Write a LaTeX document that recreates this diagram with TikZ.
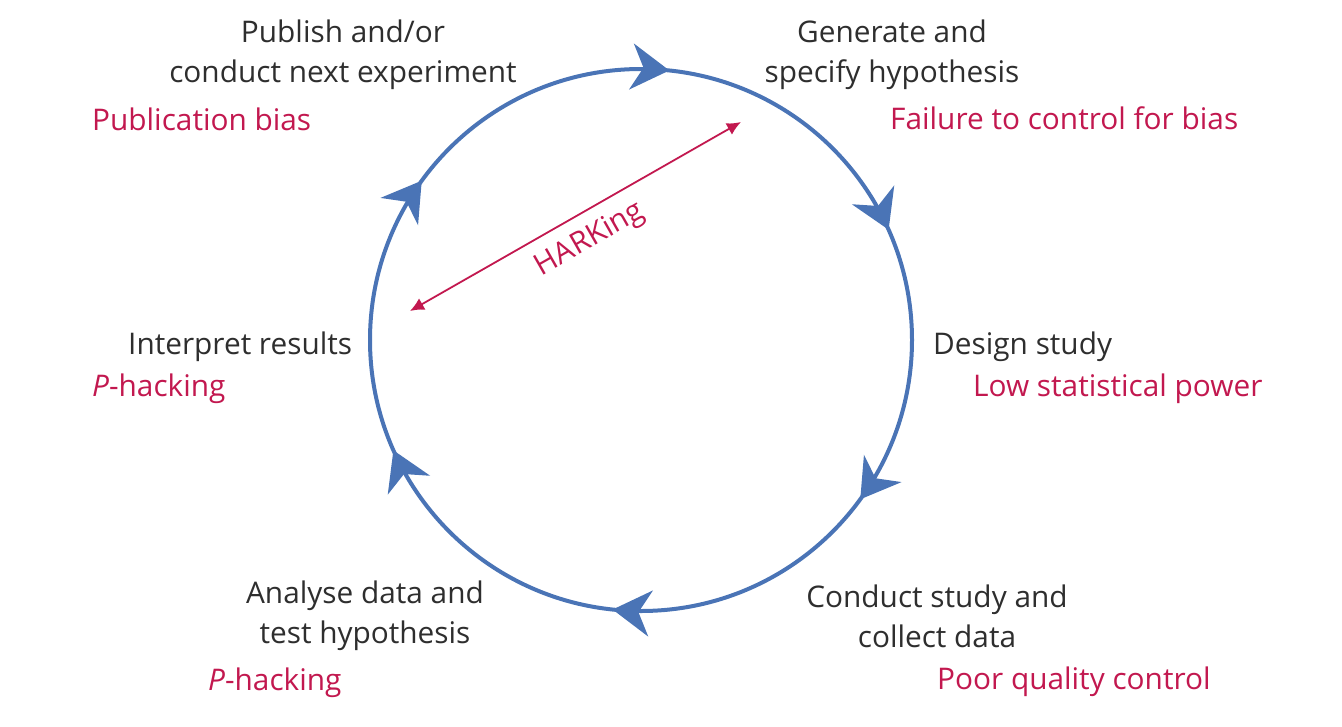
\documentclass[tikz,border=0pt]{standalone}
\usepackage{fontspec}
\setmainfont{Open Sans}
\usetikzlibrary{arrows.meta,decorations.markings}
\definecolor{cycblue}{HTML}{4A74B6}
\definecolor{biasred}{HTML}{C2184F}
\definecolor{txt}{HTML}{2E2E2E}
\tikzset{
  step label/.style={text=txt,font=\fontsize{29.8}{40}\selectfont,align=center,inner sep=0pt},
  bias label/.style={text=biasred,font=\fontsize{29.8}{40}\selectfont,inner sep=0pt},
  cyc/.style={draw=cycblue,line width=4pt},
  cyctip/.style={cycblue},
}
\newcommand{\cyctiphere}{\arrow[cyctip]{Stealth[length=38pt,width=46pt,inset=12pt]}}
\begin{document}
\begin{tikzpicture}[x=1pt,y=1pt]
\useasboundingbox (0,0) rectangle (1342,-726);
\coordinate (c) at (641,-340);
\draw[cyc,postaction={decorate},decoration={markings,
  mark=at position 0.0167 with {\cyctiphere},
  mark=at position 0.1833 with {\cyctiphere},
  mark=at position 0.35 with {\cyctiphere},
  mark=at position 0.5167 with {\cyctiphere},
  mark=at position 0.6833 with {\cyctiphere},
  mark=at position 0.85 with {\cyctiphere}}]
  (c) ++(90:271) arc[start angle=90,end angle=-270,radius=271];
% HARKing
\coordinate (h1) at (410,-311);
\coordinate (h2) at (741,-122);
\draw[biasred,line width=1.8pt,{Latex[length=14pt,width=13pt]}-{Latex[length=14pt,width=13pt]}] (h1) -- (h2);
\node[bias label,rotate=29.7] (hark) at (590,-240) {HARKing};
% labels
\node[step label] (pub) at (343,-55) {Publish and/or\\conduct next experiment};
\node[bias label,anchor=west] (pubb) at (92,-119) {Publication bias};
\node[step label] (gen) at (892,-55) {Generate and\\specify hypothesis};
\node[bias label,anchor=west] (genb) at (890,-118) {Failure to control for bias};
\node[step label,anchor=west] (des) at (933,-347) {Design study};
\node[bias label,anchor=west] (desb) at (973,-389) {Low statistical power};
\node[step label,anchor=west] (int) at (128,-347) {Interpret results};
\node[bias label,anchor=west] (intb) at (92,-389) {\textit{P}-hacking};
\node[step label] (ana) at (365,-616) {Analyse data and\\test hypothesis};
\node[bias label,anchor=west] (anab) at (208,-683) {\textit{P}-hacking};
\node[step label] (con) at (937,-616) {Conduct study and\\collect data};
\node[bias label,anchor=west] (conb) at (937,-682) {Poor quality control};
\end{tikzpicture}
\end{document}
